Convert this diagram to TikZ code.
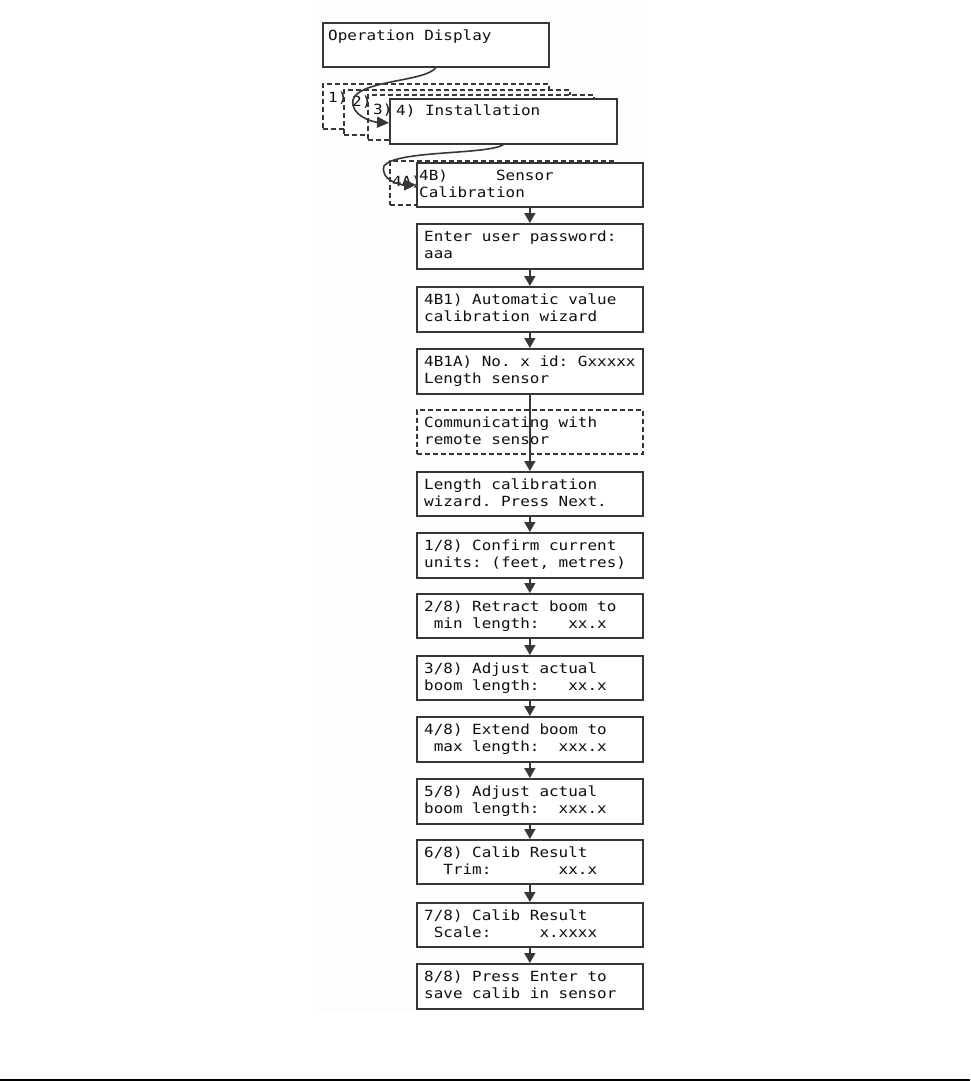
\documentclass[tikz,border=0pt]{standalone}
\usepackage{fontspec}
\newfontfamily\monofnt[FakeStretch=1.14]{DejaVu Sans Mono}
\usetikzlibrary{arrows.meta}
\definecolor{lc}{RGB}{55,55,55}
\definecolor{tc}{RGB}{15,15,15}
\definecolor{bgc}{RGB}{253,253,253}
\begin{document}
\begin{tikzpicture}[x=1pt,y=-1pt,
  box/.style={draw=lc,line width=1.7pt,fill=white,minimum width=226pt,minimum height=45pt,inner sep=0pt,anchor=north west},
  dbox/.style={box,line width=1.5pt,dash pattern=on 5pt off 3pt},
  txt/.style={font={\monofnt\fontsize{14pt}{17pt}\selectfont\frenchspacing},text=tc,align=left,anchor=base west,inner sep=0pt},
  arr/.style={draw=lc,line width=1.6pt,-{Triangle[length=10pt,width=11pt]}},
  carr/.style={draw=lc,line width=1.6pt,-{Triangle[length=12pt,width=11pt]}}]
\useasboundingbox (0,0) rectangle (970,1081);
\fill[bgc] (318,0) rectangle (648,1012);
% top part
\node[box,minimum height=44pt] (od) at (322,22) {};
\node[txt] (tod) at (328,41) {Operation Display};
\node[dbox] (b1) at (322,83) {};
\node[txt] (tb1) at (328,102) {1)};
\node[dbox] (b2) at (343,89) {};
\node[txt] (tb2) at (352,106) {2)};
\node[dbox] (b3) at (367,94) {};
\node[txt] (tb3) at (373,114) {3)};
\node[box,minimum width=227pt] (inst) at (389,98) {};
\node[txt] (tinst) at (396,115) {4) Installation};
\node[dbox,minimum height=44pt] (b4a) at (389,160) {};
\node[txt] (tb4a) at (392,186) {4A)};
\node[box,minimum height=44pt] (b4b) at (416,162) {};
\node[txt] (tb4b) at (419,197) {4B)~~~~~Sensor\\Calibration};
% column
\node[box] (pw) at (416,223) {};
\node[txt] (tpw) at (424,258) {Enter user password:\\aaa};
\node[box] (c1) at (416,286) {};
\node[txt] (tc1) at (424,321) {4B1) Automatic value\\calibration wizard};
\node[box] (c1a) at (416,348) {};
\node[txt] (tc1a) at (424,383) {4B1A) No. x id: Gxxxxx\\Length sensor};
\node[dbox,minimum height=44pt] (comm) at (416,409) {};
\node[txt] (tcomm) at (424,444) {Communicating with\\remote sensor};
\node[box,minimum height=44pt] (lcw) at (416,471) {};
\node[txt] (tlcw) at (424,506) {Length calibration\\wizard. Press Next.};
\node[box] (s1) at (416,532) {};
\node[txt] (ts1) at (424,567) {1/8) Confirm current\\units: (feet, metres)};
\node[box,minimum height=44pt] (s2) at (416,593) {};
\node[txt] (ts2) at (424,628) {2/8) Retract boom to\\~min length:~~~xx.x};
\node[box,minimum height=44pt] (s3) at (416,655) {};
\node[txt] (ts3) at (424,690) {3/8) Adjust actual\\boom length:~~~xx.x};
\node[box] (s4) at (416,716) {};
\node[txt] (ts4) at (424,751) {4/8) Extend boom to\\~max length:~~xxx.x};
\node[box] (s5) at (416,778) {};
\node[txt] (ts5) at (424,813) {5/8) Adjust actual\\boom length:~~xxx.x};
\node[box,minimum height=44pt] (s6) at (416,839) {};
\node[txt] (ts6) at (424,874) {6/8) Calib Result\\~~Trim:~~~~~~~xx.x};
\node[box,minimum height=44pt] (s7) at (416,902) {};
\node[txt] (ts7) at (424,937) {7/8) Calib Result\\~Scale:~~~~~x.xxxx};
\node[box] (s8) at (416,963) {};
\node[txt] (ts8) at (424,998) {8/8) Press Enter to\\save calib in sensor};
% connectors
\draw[carr] (od.south) .. controls (425,82) and (358,80) .. (353,100) .. controls (350,115) and (372,122) .. ([yshift=-1.5pt]inst.west);
\draw[carr] (inst.south) .. controls (487,155) and (395,150) .. (384,166) .. controls (380,180) and (400,185) .. (b4b.west);
\draw[arr] (b4b.south) -- (pw.north);
\draw[arr] (pw.south) -- (c1.north);
\draw[arr] (c1.south) -- (c1a.north);
\draw[arr] (c1a.south) -- (lcw.north);
\draw[arr] (lcw.south) -- (s1.north);
\draw[arr] (s1.south) -- (s2.north);
\draw[arr] (s2.south) -- (s3.north);
\draw[arr] (s3.south) -- (s4.north);
\draw[arr] (s4.south) -- (s5.north);
\draw[arr] (s5.south) -- (s6.north);
\draw[arr] (s6.south) -- (s7.north);
\draw[arr] (s7.south) -- (s8.north);
% bottom rule
\coordinate (rl) at (0,1079.5);
\coordinate (rr) at (970,1079.5);
\draw[line width=2pt,black] (rl) -- (rr);
\end{tikzpicture}
\end{document}
